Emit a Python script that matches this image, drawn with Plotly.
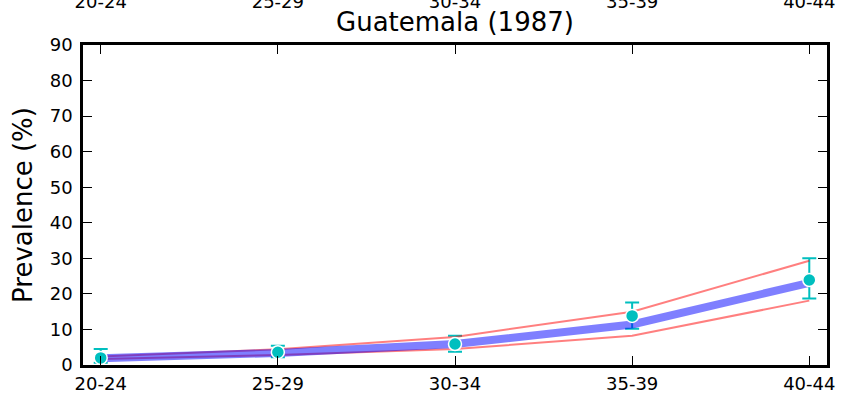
import plotly.graph_objects as go

categories = ["20-24", "25-29", "30-34", "35-39", "40-44"]
mean_line = [1.9, 3.4, 5.9, 11.4, 23.1]
upper_line = [2.4, 4.4, 7.9, 15.0, 29.3]
lower_line = [1.7, 2.8, 4.5, 8.2, 18.1]
obs = [2.0, 3.6, 5.9, 13.8, 23.9]
obs_hi = [4.5, 5.4, 8.2, 17.6, 30.0]
obs_lo = [0.6, 2.2, 3.7, 10.2, 18.7]
yticks = list(range(0, 91, 10))

x = list(range(len(categories)))
err_plus = [h - o for h, o in zip(obs_hi, obs)]
err_minus = [o - l for o, l in zip(obs, obs_lo)]

fig = go.Figure()
fig.add_trace(go.Scatter(
    x=x, y=obs, mode="markers", marker=dict(size=1, color="rgba(0,0,0,0)"),
    error_y=dict(type="data", array=err_plus, arrayminus=err_minus,
                 color="#00bfbf", thickness=2, width=7),
    showlegend=False, hoverinfo="skip"))
fig.add_trace(go.Scatter(x=x, y=upper_line, mode="lines",
                         line=dict(color="rgba(255,0,0,0.5)", width=2), showlegend=False))
fig.add_trace(go.Scatter(x=x, y=lower_line, mode="lines",
                         line=dict(color="rgba(255,0,0,0.5)", width=2), showlegend=False))
fig.add_trace(go.Scatter(x=x, y=mean_line, mode="lines",
                         line=dict(color="rgba(0,0,255,0.5)", width=8), showlegend=False))
fig.add_trace(go.Scatter(x=x, y=obs, mode="markers",
                         marker=dict(size=13, color="#00bfbf", line=dict(color="white", width=1.5)),
                         showlegend=False))
# invisible trace to activate top axis
fig.add_trace(go.Scatter(x=x, y=obs, xaxis="x2", mode="markers",
                         marker=dict(size=1, color="rgba(0,0,0,0)"), showlegend=False, hoverinfo="skip"))

tickfont = dict(family="DejaVu Sans", size=18, color="black")
xcommon = dict(range=[-0.1, 4.1], tickmode="array", tickvals=x, ticktext=categories,
               ticks="inside", ticklen=9, tickwidth=1.2, tickcolor="black",
               showline=True, linecolor="black", linewidth=2.5, showgrid=False,
               zeroline=False, tickfont=tickfont, layer="above traces", automargin=False)
fig.update_layout(
    width=841, height=396,
    margin=dict(l=83, r=14, t=45, b=31, autoexpand=False),
    paper_bgcolor="white", plot_bgcolor="white",
    font=dict(family="DejaVu Sans", color="black"),
    title=dict(text="Guatemala (1987)", x=0.5, xref="paper", xanchor="center",
               y=1 - 22 / 396, yref="container", yanchor="middle",
               font=dict(size=26, family="DejaVu Sans", color="black")),
    xaxis=dict(**xcommon, mirror=False, ticklabelstandoff=1),
    xaxis2=dict(**xcommon, overlaying="x", side="top", matches="x", ticklabelstandoff=27),
    yaxis=dict(range=[0, 90], tickmode="array", tickvals=yticks,
               ticks="inside", ticklen=9, tickwidth=1.2, tickcolor="black",
               showline=True, linecolor="black", linewidth=2.5, mirror="ticks",
               showgrid=False, zeroline=False, tickfont=tickfont, layer="above traces",
               ticklabelstandoff=4, automargin=False,
               title=dict(text="Prevalence (%)", font=dict(size=26, family="DejaVu Sans"), standoff=10)),
)
fig.write_html("out.html", config={"displayModeBar": False},
               post_script="document.body.style.margin='0';")
